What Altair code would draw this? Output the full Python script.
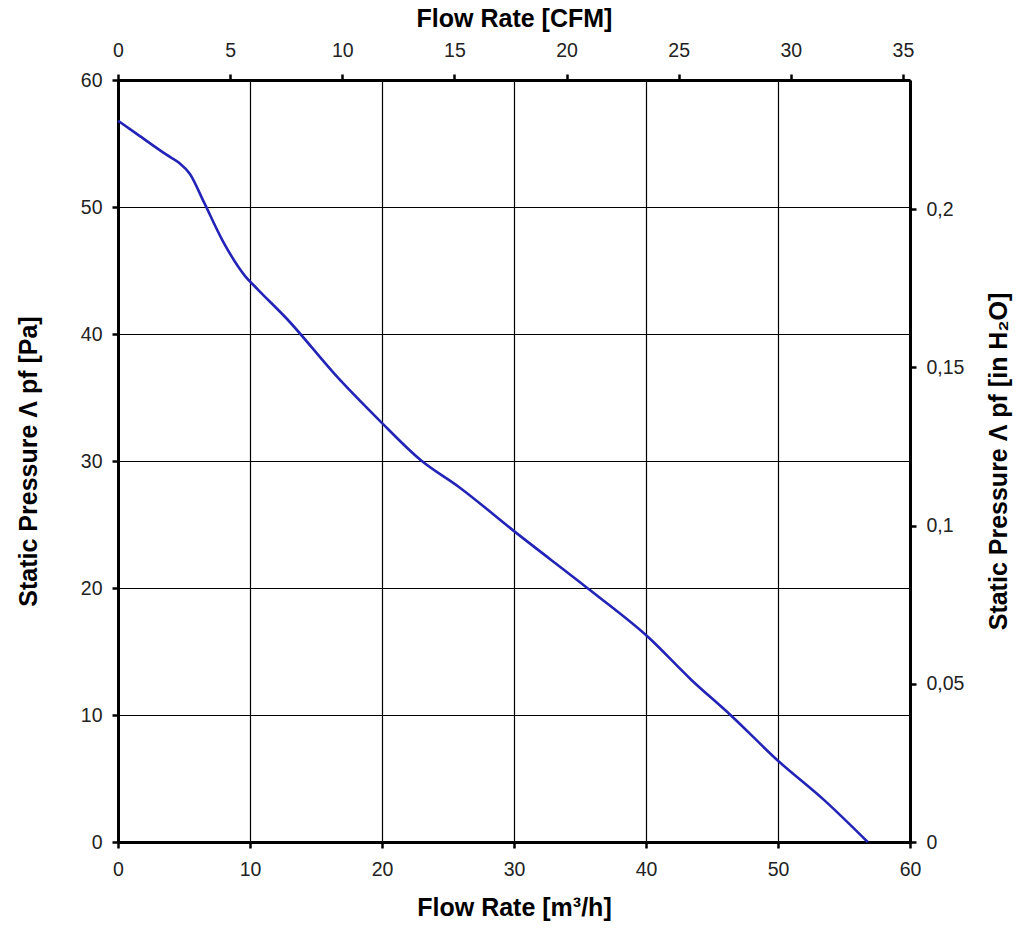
import altair as alt
import pandas as pd

# Flow rate [m³/h] and static pressure [Pa]
flow_m3h = [0, 1.5, 3.7, 4.6, 5.45, 6.5, 7.9, 9.6, 10.6, 12.7, 16.8, 19.8, 22.9, 25.9,
            30.1, 35.8, 40.2, 43.4, 46.4, 50.0, 53.5, 56.8]
pressure_pa = [56.8, 55.7, 54.1, 53.5, 52.6, 50.4, 47.4, 44.6, 43.5, 41.3, 36.4, 33.2, 30.1,
               27.9, 24.4, 19.8, 16.1, 12.8, 10.0, 6.4, 3.3, 0.0]

x_ticks = [0, 10, 20, 30, 40, 50, 60]
y_ticks = [0, 10, 20, 30, 40, 50, 60]
cfm_ticks = [0, 5, 10, 15, 20, 25, 30, 35]
inh2o_ticks = [0, 0.05, 0.1, 0.15, 0.2]

M3H_PER_CFM = 1.699
PA_PER_INH2O = 249.09

df = pd.DataFrame({"flow": flow_m3h, "pressure": pressure_pa})
df["cfm"] = df["flow"] / M3H_PER_CFM
df["inh2o"] = df["pressure"] / PA_PER_INH2O

FONT = "Liberation Sans"
LABEL_SIZE = 19.5
TITLE_SIZE = 25

common_axis = dict(
    domainColor="black", domainWidth=3, tickColor="black", tickWidth=2.5,
    tickSize=6, labelFont=FONT, labelFontSize=LABEL_SIZE, labelColor="#222222",
    labelFlush=False,
    titleFont=FONT, titleFontSize=TITLE_SIZE, titleFontWeight="bold",
    titleColor="black",
)

main = alt.Chart(df).mark_line(color="#2323b8", strokeWidth=2.6, interpolate="monotone").encode(
    x=alt.X("flow:Q",
            scale=alt.Scale(domain=[0, 60], nice=False),
            axis=alt.Axis(orient="bottom", values=x_ticks, title="Flow Rate [m³/h]",
                          grid=True, gridColor="black", gridWidth=1.2, gridOpacity=1,
                          labelPadding=12, titleX=396, titleY=65, titleBaseline="middle",
                          **common_axis)),
    y=alt.Y("pressure:Q",
            scale=alt.Scale(domain=[0, 60], nice=False),
            axis=alt.Axis(orient="left", values=y_ticks, title="Static Pressure Λ pf [Pa]",
                          grid=True, gridColor="black", gridWidth=1.2, gridOpacity=1,
                          labelPadding=10, titleX=-90, titleY=381, titleAngle=-90,
                          titleBaseline="middle", titleAlign="center",
                          **common_axis)),
)

second = alt.Chart(df).mark_line(opacity=0).encode(
    x=alt.X("cfm:Q",
            scale=alt.Scale(domain=[0, 60 / M3H_PER_CFM], nice=False),
            axis=alt.Axis(orient="top", values=cfm_ticks, title="Flow Rate [CFM]",
                          grid=False, labelPadding=14, titleX=396, titleY=-62,
                          titleBaseline="middle", **common_axis)),
    y=alt.Y("inh2o:Q",
            scale=alt.Scale(domain=[0, 60 / PA_PER_INH2O], nice=False),
            axis=alt.Axis(orient="right", values=inh2o_ticks,
                          title="Static Pressure Λ pf [in H₂O]", format="~g",
                          labelExpr="replace(datum.label, '.', ',')",
                          grid=False, labelPadding=10, titleX=88, titleY=381,
                          titleAngle=-90, titleBaseline="middle", titleAlign="center",
                          **common_axis)),
)

chart = alt.layer(main, second).resolve_scale(
    x="independent", y="independent"
).properties(
    width=792, height=762,
    padding={"left": 118, "top": 80, "right": 114, "bottom": 93},
    autosize=alt.AutoSizeParams(type="none"),
    background="white",
).configure_view(stroke=None)

chart.save("out.html", embed_options={"renderer": "svg", "actions": False})
